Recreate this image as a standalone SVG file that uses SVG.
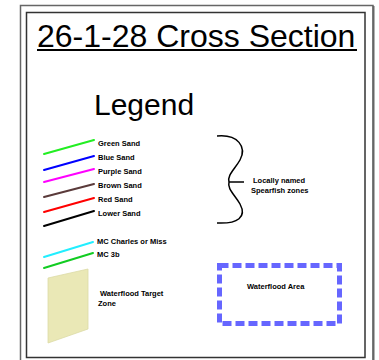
<svg xmlns="http://www.w3.org/2000/svg" width="379" height="360" viewBox="0 0 379 360">
<style>
.t{font-family:"Liberation Sans",Arial,sans-serif;fill:#000}
.s{font-size:7.5px;font-weight:bold}
.ln{stroke-width:2;fill:none;stroke-linecap:round}
</style>
<rect width="379" height="360" fill="#fff"/>
<g id="frame">
<rect x="20.5" y="5.5" width="352.5" height="360" fill="none" stroke="#666" stroke-width="1.5"/>
<line x1="373.5" y1="6" x2="373.5" y2="360" stroke="#666" stroke-width="2"/>
<rect x="26.5" y="12.5" width="338.5" height="345" fill="none" stroke="#333" stroke-width="1.5"/>
</g>
<g id="title">
<text class="t" x="37" y="47" font-size="32">26-1-28 Cross Section</text>
<line x1="37" y1="50" x2="357" y2="50" stroke="#000" stroke-width="2"/>
</g>
<g id="legend-title"><text class="t" x="94" y="115" font-size="30">Legend</text></g>
<g id="connectors">
<line class="ln" x1="44" y1="154" x2="94" y2="140" stroke="#22ee22"/>
<line class="ln" x1="44" y1="170" x2="94" y2="156" stroke="#0000ff"/>
<line class="ln" x1="44" y1="182" x2="94" y2="169" stroke="#ff00ff"/>
<line class="ln" x1="44" y1="197" x2="94" y2="184" stroke="#5a3a3a"/>
<line class="ln" x1="44" y1="212" x2="94" y2="198" stroke="#ff0000"/>
<line class="ln" x1="44" y1="226" x2="94" y2="211" stroke="#000000"/>
<line class="ln" x1="44" y1="257" x2="93" y2="242" stroke="#22eeff"/>
<line class="ln" x1="44" y1="268" x2="93" y2="253" stroke="#11cc22"/>
<path d="M217,136 C238,134 247,147 240,160 C235,169 227,175 229,182 L244,182 M229,182 C227,189 235,195 240,204 C247,217 238,224 217,223" fill="none" stroke="#000" stroke-width="1.5"/>
</g>
<g id="labels">
<text class="t s" x="98" y="146">Green Sand</text>
<text class="t s" x="98" y="160">Blue Sand</text>
<text class="t s" x="98" y="174">Purple Sand</text>
<text class="t s" x="98" y="188">Brown Sand</text>
<text class="t s" x="98" y="202">Red Sand</text>
<text class="t s" x="98" y="216">Lower Sand</text>
<text class="t s" x="253" y="183">Locally named</text>
<text class="t s" x="251" y="193">Spearfish zones</text>
<text class="t s" x="97" y="244">MC Charles or Miss</text>
<text class="t s" x="97" y="257">MC 3b</text>
</g>
<g id="target-zone">
<polygon points="48,278 88,269 88,329 48,343" fill="#eae8b6" stroke="#dcdaa6" stroke-width="0.8"/>
<text class="t s" x="100" y="296">Waterflood Target</text>
<text class="t s" x="98" y="306">Zone</text>
</g>
<g id="waterflood-area">
<rect x="219.5" y="265.5" width="120" height="58" fill="none" stroke="#6666ff" stroke-width="5" stroke-dasharray="9,4"/>
<text class="t s" x="247" y="289">Waterflood Area</text>
</g>
</svg>
